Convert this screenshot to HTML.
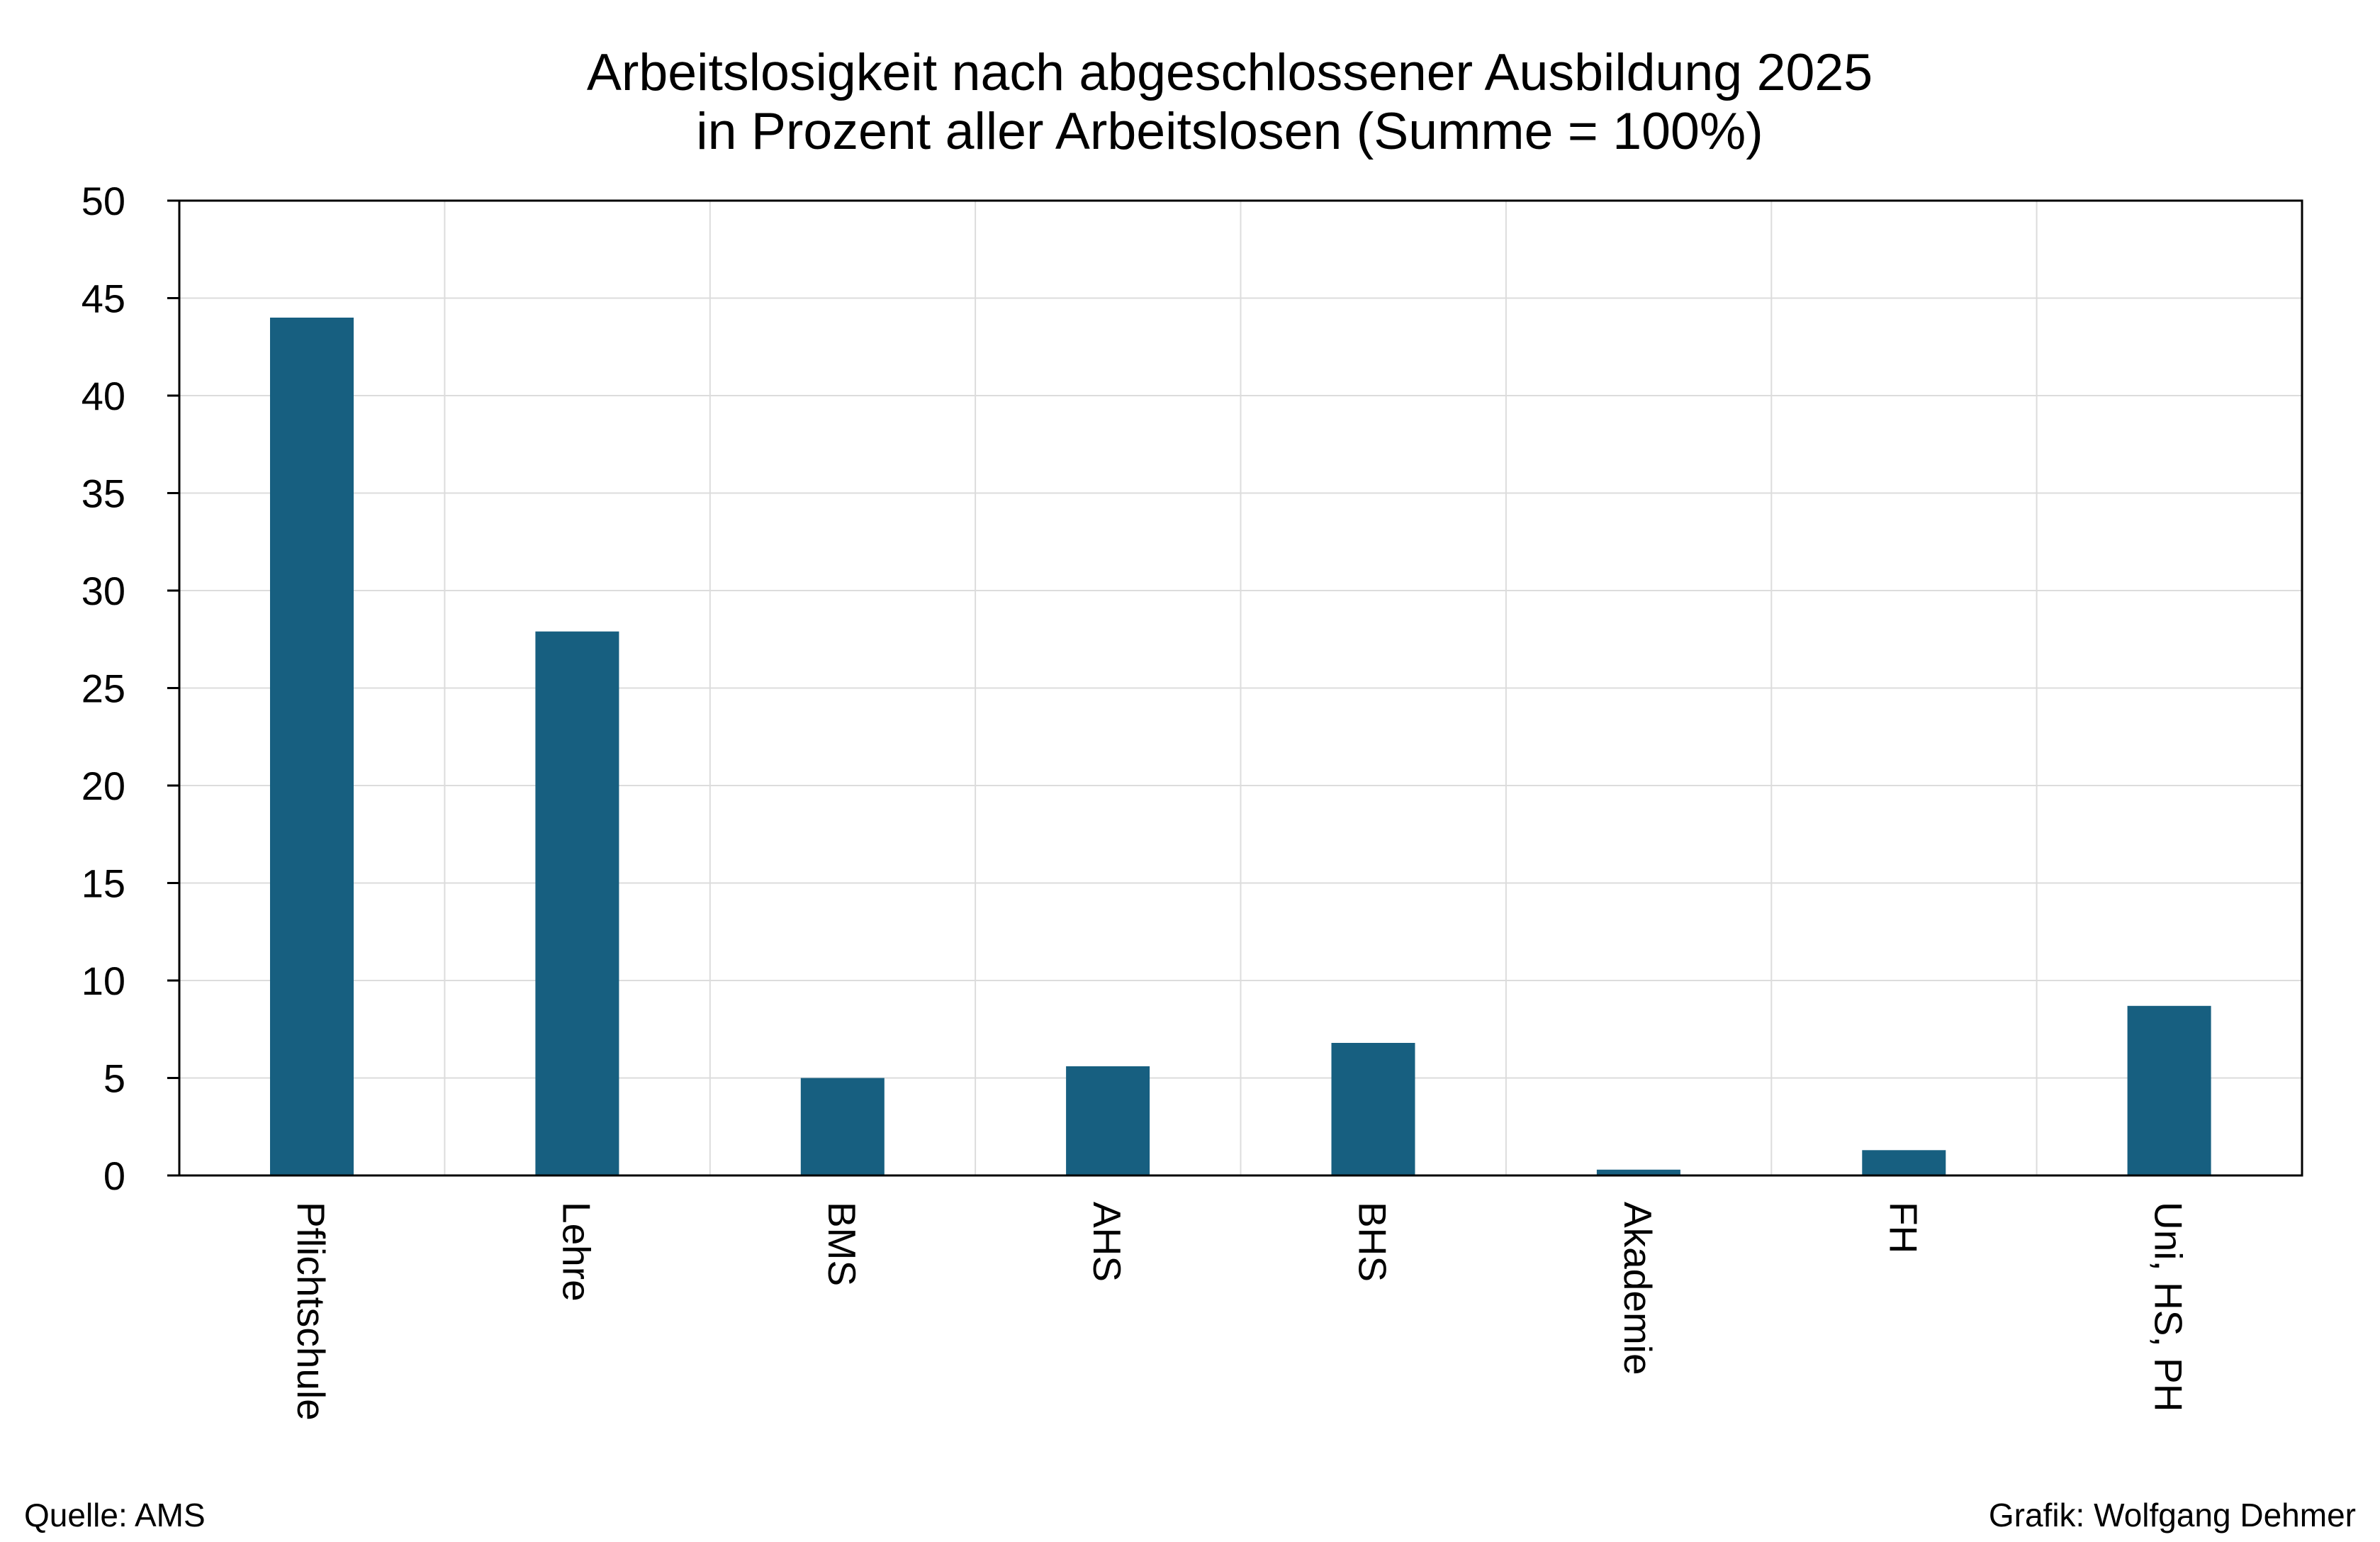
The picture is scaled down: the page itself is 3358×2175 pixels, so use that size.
<!DOCTYPE html>
<html><head><meta charset="utf-8"><style>html,body{margin:0;padding:0;background:#fff}</style></head>
<body>
<svg width="3358" height="2170" viewBox="0 0 3358 2170" xmlns="http://www.w3.org/2000/svg" font-family="Liberation Sans, Arial, sans-serif">
<rect width="3358" height="2170" fill="#fff"/>
<text x="1735" y="127" font-size="73.5" text-anchor="middle">Arbeitslosigkeit nach abgeschlossener Ausbildung 2025</text>
<text x="1735" y="210" font-size="73.5" text-anchor="middle">in Prozent aller Arbeitslosen (Summe = 100%)</text>
<g stroke="#dcdcdc" stroke-width="2">
<line x1="253" x2="3248" y1="420.5" y2="420.5"/><line x1="253" x2="3248" y1="558" y2="558"/>
<line x1="253" x2="3248" y1="695.5" y2="695.5"/><line x1="253" x2="3248" y1="833" y2="833"/>
<line x1="253" x2="3248" y1="970.5" y2="970.5"/><line x1="253" x2="3248" y1="1108" y2="1108"/>
<line x1="253" x2="3248" y1="1245.5" y2="1245.5"/><line x1="253" x2="3248" y1="1383" y2="1383"/>
<line x1="253" x2="3248" y1="1520.5" y2="1520.5"/>
<line y1="283" y2="1658" x1="627.4" x2="627.4"/><line y1="283" y2="1658" x1="1001.8" x2="1001.8"/>
<line y1="283" y2="1658" x1="1376.1" x2="1376.1"/><line y1="283" y2="1658" x1="1750.5" x2="1750.5"/>
<line y1="283" y2="1658" x1="2124.9" x2="2124.9"/><line y1="283" y2="1658" x1="2499.3" x2="2499.3"/>
<line y1="283" y2="1658" x1="2873.6" x2="2873.6"/>
</g>
<g fill="#175f80">
<rect x="381" y="448" width="118" height="1210"/>
<rect x="755.4" y="890.7" width="118" height="767.3"/>
<rect x="1129.8" y="1520.5" width="118" height="137.5"/>
<rect x="1504.1" y="1504" width="118" height="154"/>
<rect x="1878.5" y="1471" width="118" height="187"/>
<rect x="2252.9" y="1649.8" width="118" height="8.2"/>
<rect x="2627.3" y="1622.3" width="118" height="35.7"/>
<rect x="3001.6" y="1418.8" width="118" height="239.2"/>
</g>
<rect x="253" y="283" width="2995" height="1375" fill="none" stroke="#000" stroke-width="3"/>
<g stroke="#000" stroke-width="3">
<line x1="236" x2="253" y1="283" y2="283"/><line x1="236" x2="253" y1="420.5" y2="420.5"/>
<line x1="236" x2="253" y1="558" y2="558"/><line x1="236" x2="253" y1="695.5" y2="695.5"/>
<line x1="236" x2="253" y1="833" y2="833"/><line x1="236" x2="253" y1="970.5" y2="970.5"/>
<line x1="236" x2="253" y1="1108" y2="1108"/><line x1="236" x2="253" y1="1245.5" y2="1245.5"/>
<line x1="236" x2="253" y1="1383" y2="1383"/><line x1="236" x2="253" y1="1520.5" y2="1520.5"/>
<line x1="236" x2="253" y1="1658" y2="1658"/>
</g>
<g font-size="56" text-anchor="end">
<text x="177" y="303">50</text><text x="177" y="440.5">45</text><text x="177" y="578">40</text>
<text x="177" y="715.5">35</text><text x="177" y="853">30</text><text x="177" y="990.5">25</text>
<text x="177" y="1128">20</text><text x="177" y="1265.5">15</text><text x="177" y="1403">10</text>
<text x="177" y="1540.5">5</text><text x="177" y="1678">0</text>
</g>
<g font-size="55">
<text transform="translate(420,1695) rotate(90)">Pflichtschule</text>
<text transform="translate(794.4,1695) rotate(90)">Lehre</text>
<text transform="translate(1168.8,1695) rotate(90)">BMS</text>
<text transform="translate(1543.1,1695) rotate(90)">AHS</text>
<text transform="translate(1917.5,1695) rotate(90)">BHS</text>
<text transform="translate(2291.9,1695) rotate(90)">Akademie</text>
<text transform="translate(2666.3,1695) rotate(90)">FH</text>
<text transform="translate(3040.6,1695) rotate(90)">Uni, HS, PH</text>
</g>
<text x="34" y="2153" font-size="46">Quelle: AMS</text>
<text x="3324" y="2153" font-size="46" text-anchor="end">Grafik: Wolfgang Dehmer</text>
</svg>
</body></html>
